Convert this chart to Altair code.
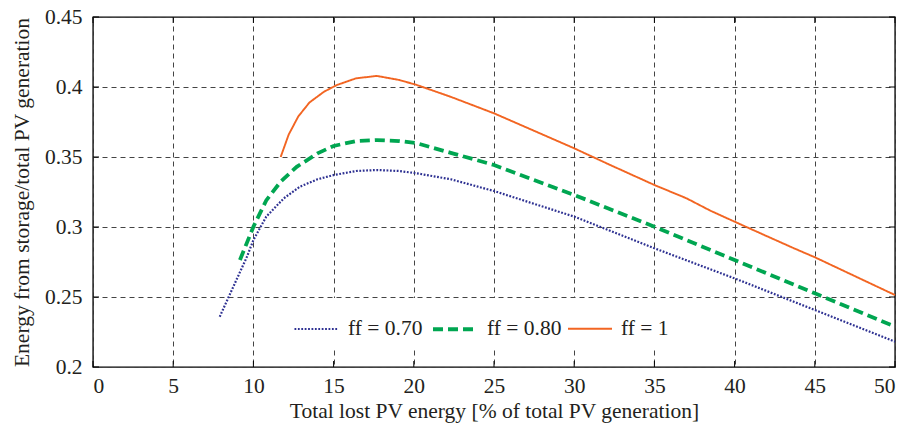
import altair as alt
import pandas as pd

# Curves: energy supplied from storage (fraction of total PV generation)
# against total lost PV energy (% of total PV generation)
series_names = ["ff = 0.70", "ff = 0.80", "ff = 1"]

x_ff070 = [7.9, 8.75, 9.6, 10.0, 10.8, 11.9, 12.9, 14.0, 15.0, 16.4, 17.7, 19.1,
           20.2, 22.3, 25.0, 30.0, 35.0, 40.0, 45.0, 50.0]
y_ff070 = [0.2359, 0.2574, 0.2788, 0.2907, 0.3074, 0.3205, 0.3288, 0.3341, 0.3371,
           0.3400, 0.3407, 0.3400, 0.3383, 0.3341, 0.3257, 0.3074, 0.2848, 0.2633,
           0.2407, 0.2181]

x_ff080 = [9.16, 10.0, 10.8, 11.7, 12.7, 14.0, 15.0, 16.4, 17.7, 19.1, 20.2, 22.3,
           25.0, 30.0, 35.0, 40.0, 45.0, 50.0]
y_ff080 = [0.2764, 0.3002, 0.3190, 0.3324, 0.3430, 0.3526, 0.3579, 0.3614, 0.3621,
           0.3614, 0.3598, 0.3530, 0.3443, 0.3229, 0.3002, 0.2764, 0.2526, 0.2288]

x_ff100 = [11.7, 12.2, 12.8, 13.5, 14.4, 15.2, 16.4, 17.7, 19.1, 20.2, 22.3, 25.0,
           27.5, 30.0, 32.3, 35.0, 37.0, 38.5, 40.0, 42.0, 43.7, 45.0, 47.5, 50.0]
y_ff100 = [0.3500, 0.3660, 0.3790, 0.3890, 0.3966, 0.4014, 0.4062, 0.4079, 0.4050,
           0.4014, 0.3930, 0.3812, 0.3687, 0.3562, 0.3440, 0.3300, 0.3205, 0.3116,
           0.3038, 0.2935, 0.2848, 0.2784, 0.2649, 0.2514]

x_ticks = [0, 5, 10, 15, 20, 25, 30, 35, 40, 45, 50]
y_ticks = [0.2, 0.25, 0.3, 0.35, 0.4, 0.45]

colors = ["#2E3192", "#00A651", "#F26522"]
dashes = [[1.8, 1.6], [10, 5], [1, 0]]
widths = [2.2, 3.8, 1.9]

FONT = "Liberation Serif"
FS = 21.5
W, H = 802, 350

frames = []
for name, xs, ys in [(series_names[0], x_ff070, y_ff070),
                     (series_names[1], x_ff080, y_ff080),
                     (series_names[2], x_ff100, y_ff100)]:
    frames.append(pd.DataFrame({"x": xs, "y": ys, "series": name,
                                "order": range(len(xs))}))
df = pd.concat(frames, ignore_index=True)

x_scale = alt.Scale(domain=[0, 50], nice=False, zero=False)
y_scale = alt.Scale(domain=[0.2, 0.45], nice=False, zero=False)

x_enc = alt.X("x:Q", scale=x_scale,
              axis=alt.Axis(values=x_ticks, title="Total lost PV energy [% of total PV generation]",
                            titleX=W / 2, titleY=44, titleBaseline="middle",
                            labelPadding=8, tickSize=0, format="~g"))
y_enc = alt.Y("y:Q", scale=y_scale,
              axis=alt.Axis(values=y_ticks, title="Energy from storage/total PV generation",
                            titleX=-71, titleY=H / 2, titleAngle=-90,
                            titleBaseline="middle", titleAlign="center",
                            labelPadding=11, tickSize=0, format="~g"))

legend = alt.Legend(title=None, orient="none", direction="horizontal",
                    legendX=193, legendY=281, padding=7,
                    fillColor="white", symbolType="stroke",
                    symbolSize=1936, labelFont=FONT, labelFontSize=FS,
                    labelColor="#231F20", labelOffset=8, columnPadding=2,
                    labelLimit=200)

lines = alt.Chart(df).mark_line(strokeCap="butt").encode(
    x=x_enc,
    y=y_enc,
    order="order:Q",
    color=alt.Color("series:O", sort=series_names,
                    scale=alt.Scale(domain=series_names, range=colors),
                    legend=legend),
    strokeDash=alt.StrokeDash("series:O", sort=series_names,
                              scale=alt.Scale(domain=series_names, range=dashes),
                              legend=legend),
    strokeWidth=alt.StrokeWidth("series:O", sort=series_names,
                                scale=alt.Scale(type="ordinal", domain=series_names,
                                                range=widths),
                                legend=legend),
)

# Inward tick marks on all four sides of the frame
xt = pd.DataFrame({"x": x_ticks})
yt = pd.DataFrame({"y": y_ticks})
tick_x_bottom = alt.Chart(xt).mark_rule(color="black").encode(
    x=alt.X("x:Q", scale=x_scale), y=alt.value(H - 6), y2=alt.value(H))
tick_x_top = alt.Chart(xt).mark_rule(color="black").encode(
    x=alt.X("x:Q", scale=x_scale), y=alt.value(0), y2=alt.value(6))
tick_y_left = alt.Chart(yt).mark_rule(color="black").encode(
    y=alt.Y("y:Q", scale=y_scale), x=alt.value(0), x2=alt.value(6))
tick_y_right = alt.Chart(yt).mark_rule(color="black").encode(
    y=alt.Y("y:Q", scale=y_scale), x=alt.value(W - 6), x2=alt.value(W))

chart = alt.layer(lines, tick_x_bottom, tick_x_top, tick_y_left, tick_y_right).properties(
    width=W, height=H,
    padding={"left": 93, "top": 17, "right": 13, "bottom": 65},
    autosize=alt.AutoSizeParams(type="none"),
    background="white",
).configure_view(
    stroke="black", strokeWidth=1.4,
).configure_axis(
    grid=True, gridColor="#444", gridDash=[5, 4], gridWidth=1, gridOpacity=1,
    domain=False,
    labelFont=FONT, labelFontSize=FS, labelColor="#231F20",
    titleFont=FONT, titleFontSize=FS, titleColor="#231F20", titleFontWeight="normal",
)

chart.save("out.html", embed_options={"renderer": "svg", "actions": False})
